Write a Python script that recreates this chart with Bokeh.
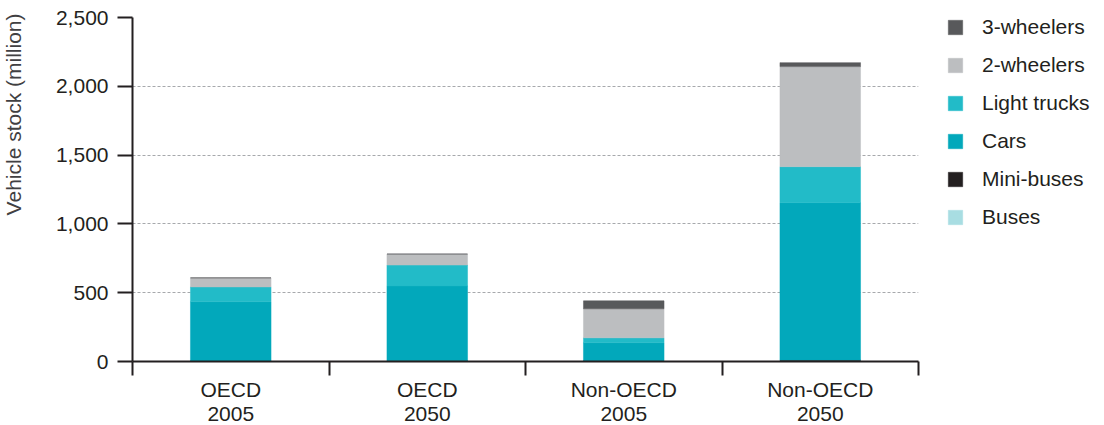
import math
from bokeh.plotting import figure
from bokeh.models import (Range1d, FixedTicker, NumeralTickFormatter, CustomJSTickFormatter,
                          Legend, LegendItem, Label)
from bokeh.embed import file_html
from bokeh.resources import INLINE

# ---- data (million vehicles) ----
categories = ["OECD\n2005", "OECD\n2050", "Non-OECD\n2005", "Non-OECD\n2050"]
buses = [3, 4, 5, 8]
mini_buses = [1, 1, 1, 2]
cars = [430, 544, 130, 1144]
light_trucks = [108, 152, 36, 262]
two_wheelers = [66, 80, 211, 727]
three_wheelers = [0, 0, 58, 29]

series_names = ["Buses", "Mini-buses", "Cars", "Light trucks", "2-wheelers", "3-wheelers"]
series_values = [buses, mini_buses, cars, light_trucks, two_wheelers, three_wheelers]
series_colors = ["#a8dde2", "#231f20", "#02a8bb", "#22bbc8", "#bcbec0", "#58595b"]

y_ticks = [0, 500, 1000, 1500, 2000, 2500]
y_label = "Vehicle stock (million)"

FONT = "Liberation Sans"
TXT = "#231f20"
FS = "21px"
FRAME_H = 344

x_pos = [i + 0.5 for i in range(len(categories))]
data = {"x": x_pos}
for name, vals in zip(series_names, series_values):
    data[name] = vals

p = figure(frame_width=786, frame_height=FRAME_H,
           x_range=Range1d(0, len(categories)), y_range=Range1d(0, 2500),
           output_backend="svg", toolbar_location=None,
           min_border_left=132, min_border_right=158, min_border_top=17, min_border_bottom=40)
p.outline_line_color = None
p.background_fill_color = "white"
p.border_fill_color = "white"

renderers = p.vbar_stack(series_names, x="x", width=0.41, source=data,
                         fill_color=series_colors, line_color=series_colors, line_width=0.5)

# x axis
xa = p.xaxis[0]
xa.ticker = FixedTicker(ticks=x_pos, minor_ticks=list(range(len(categories) + 1)))
xa.formatter = CustomJSTickFormatter(args=dict(cats=categories),
                                     code="return cats[Math.floor(tick)];")
xa.axis_line_color = TXT
xa.axis_line_width = 2
xa.major_tick_out = 0
xa.major_tick_in = 0
xa.minor_tick_out = 14
xa.minor_tick_in = 0
xa.minor_tick_line_color = TXT
xa.minor_tick_line_width = 2
xa.major_label_standoff = 2
xa.major_label_text_font = FONT
xa.major_label_text_font_size = FS
xa.major_label_text_color = TXT
xa.major_label_text_line_height = 1.05

# y axis
ya = p.yaxis[0]
ya.ticker = FixedTicker(ticks=y_ticks)
ya.formatter = NumeralTickFormatter(format="0,0")
ya.axis_line_color = TXT
ya.axis_line_width = 2
ya.major_tick_out = 15
ya.major_tick_in = 0
ya.major_tick_line_color = TXT
ya.major_tick_line_width = 2
ya.minor_tick_line_color = None
ya.major_label_standoff = 9
ya.major_label_text_font = FONT
ya.major_label_text_font_size = FS
ya.major_label_text_color = TXT

# y-axis title, aligned to the top of the axis (placed in the left border)
p.add_layout(Label(x=-28, y=FRAME_H + 4, x_units="screen", y_units="screen",
                   text=y_label, angle=math.pi / 2, text_align="right", text_baseline="top",
                   text_font=FONT, text_font_size=FS, text_color="#414042"), "left")

p.xgrid.visible = False
p.ygrid.grid_line_color = "#a7a9ac"
p.ygrid.grid_line_dash = "3 2"
p.ygrid.grid_line_width = 1

items = [LegendItem(label=n, renderers=[r]) for n, r in zip(series_names, renderers)][::-1]
legend = Legend(items=items, location=(28, 132), margin=0, padding=0,
                glyph_width=18, glyph_height=18, label_standoff=18,
                label_height=20, spacing=14,
                label_text_font=FONT, label_text_font_size=FS,
                label_text_color=TXT, border_line_color=None,
                background_fill_alpha=0)
p.add_layout(legend, "right")

open("out.html", "w").write(file_html(p, INLINE))
